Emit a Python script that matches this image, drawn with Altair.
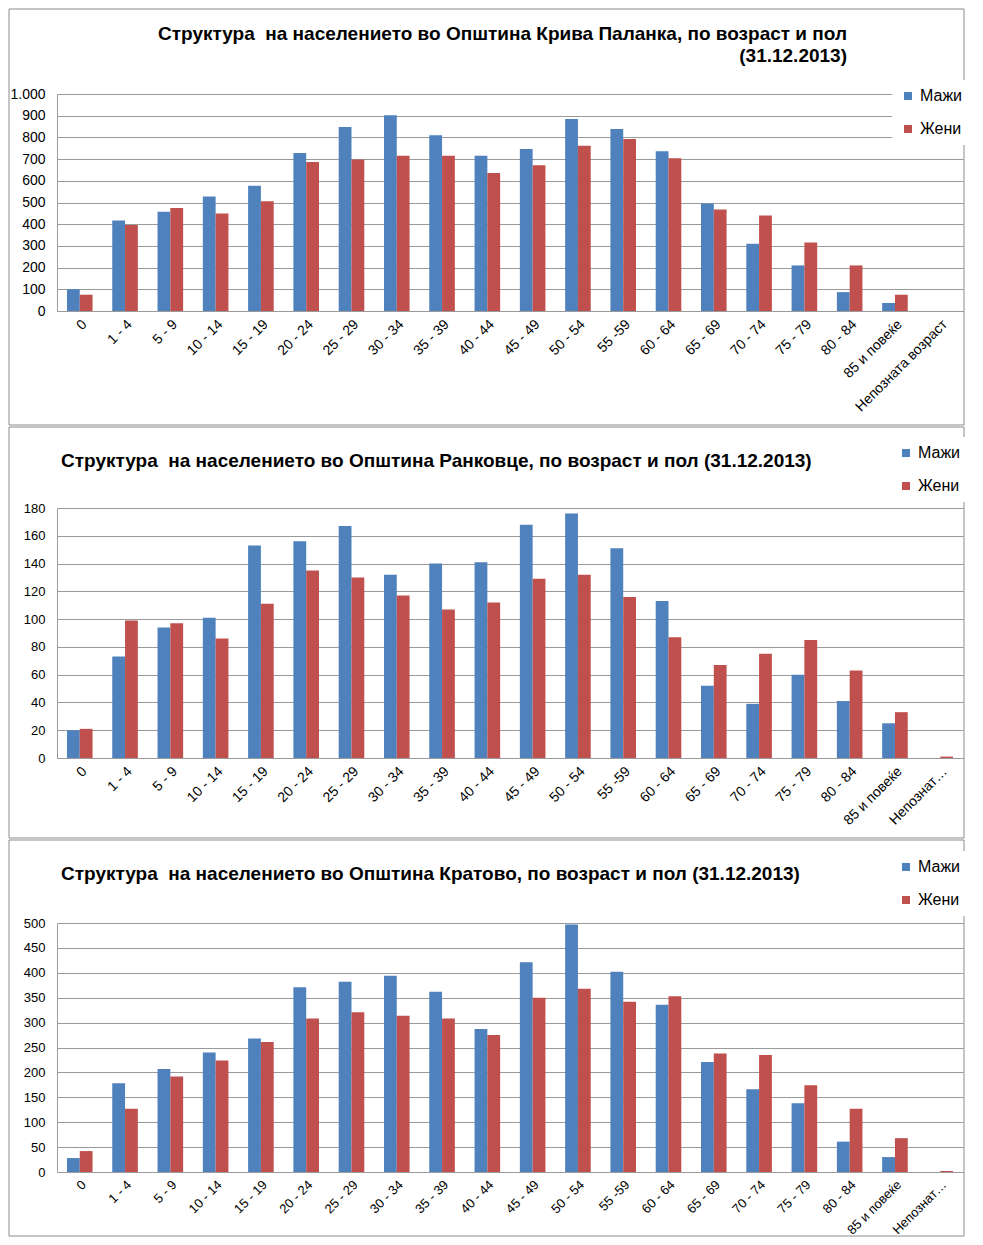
import altair as alt
import pandas as pd

ages = ['0', '1 - 4', '5 - 9', '10 - 14', '15 - 19', '20 - 24', '25 - 29', '30 - 34',
        '35 - 39', '40 - 44', '45 - 49', '50 - 54', '55 -59', '60 - 64', '65 - 69',
        '70 - 74', '75 - 79', '80 - 84', '85 и повеќе', 'Непозната возраст']
sexes = ['Мажи', 'Жени']
colors = ['#4F81BD', '#C0504D']

# Крива Паланка
kp_m = [100, 417, 457, 528, 577, 728, 848, 902, 810, 715, 747, 885, 839, 736, 495, 310, 210, 87, 37, 0]
kp_f = [75, 396, 475, 449, 506, 687, 698, 715, 715, 636, 672, 761, 793, 704, 468, 440, 316, 210, 75, 0]
# Ранковце
ra_m = [20, 73, 94, 101, 153, 156, 167, 132, 140, 141, 168, 176, 151, 113, 52, 39, 60, 41, 25, 0]
ra_f = [21, 99, 97, 86, 111, 135, 130, 117, 107, 112, 129, 132, 116, 87, 67, 75, 85, 63, 33, 1]
# Кратово
kr_m = [28, 178, 207, 240, 268, 371, 382, 394, 362, 287, 421, 497, 402, 336, 221, 166, 138, 61, 30, 0]
kr_f = [42, 127, 192, 224, 261, 308, 321, 314, 308, 275, 350, 368, 342, 353, 238, 235, 174, 127, 68, 2]

title1 = ['Структура\u00a0 на населението во Општина Крива Паланка, по возраст и пол', '(31.12.2013)']
title2 = ['Структура\u00a0 на населението во Општина Ранковце, по возраст и пол (31.12.2013)']
title3 = ['Структура\u00a0 на населението во Општина Кратово, по возраст и пол (31.12.2013)']

FONT = 'Liberation Sans'
W = 906
GRID = '#9a9a9a'
BORDER = '#8c8c8c'
TITLE_SIZE = 19


def panel(m, f, ymax, ystep, height, title_lines, title_x, title_y, title_align,
          legend_x, legend_y, box_top, box_bottom, ylab_size, xlab_size, truncate, ylab_expr=None):
    df = pd.DataFrame({'age': ages * 2, 'sex': [sexes[0]] * 20 + [sexes[1]] * 20, 'value': m + f})
    xaxis_kw = dict(title=None, labelAngle=-45, labelFontSize=xlab_size, labelFont=FONT, labelColor='black',
                    ticks=False, domainColor=GRID, labelPadding=6, grid=False, labelOverlap=False,
                    labelLimit=300)
    if truncate:
        xaxis_kw['labelExpr'] = "datum.label == 'Непозната возраст' ? 'Непознат…' : datum.label"
    yaxis_kw = dict(title=None, values=list(range(0, ymax + 1, ystep)), labelFontSize=ylab_size,
                    labelFont=FONT, labelColor='black', ticks=False, tickSize=0, labelPadding=12,
                    domainColor=GRID, gridColor=GRID, grid=True)
    if ylab_expr:
        yaxis_kw['labelExpr'] = ylab_expr
    bars = alt.Chart(df).mark_bar().encode(
        x=alt.X('age:N', sort=ages, scale=alt.Scale(paddingInner=0.435, paddingOuter=0.22),
                axis=alt.Axis(**xaxis_kw)),
        xOffset=alt.XOffset('sex:N', sort=sexes),
        y=alt.Y('value:Q', scale=alt.Scale(domain=[0, ymax], nice=False), axis=alt.Axis(**yaxis_kw)),
        color=alt.Color('sex:N', sort=sexes, scale=alt.Scale(domain=sexes, range=colors),
                        legend=alt.Legend(title=None, orient='none', legendX=legend_x, legendY=legend_y,
                                          symbolType='square', symbolSize=64, symbolStrokeWidth=0,
                                          labelFontSize=16, labelFont=FONT, labelColor='black',
                                          rowPadding=17, fillColor='white', padding=8, labelOffset=4)),
    )
    box = alt.Chart(pd.DataFrame({'k': [0]})).mark_rect(filled=False, stroke=BORDER, strokeWidth=1).encode(
        x=alt.value(-48), x2=alt.value(W + 1), y=alt.value(box_top), y2=alt.value(height + box_bottom)
    )
    layers = [box, bars]
    for i, line in enumerate(title_lines):
        layers.append(
            alt.Chart(pd.DataFrame({'t': [line]})).mark_text(
                font=FONT, fontSize=TITLE_SIZE, fontWeight='bold', color='black',
                align=title_align, baseline='middle'
            ).encode(text='t:N', x=alt.value(title_x), y=alt.value(title_y + 22 * i))
        )
    return alt.layer(*layers).properties(width=W, height=height)


p1 = panel(kp_m, kp_f, 1000, 100, 217, title1, 790, -60.5, 'right', 835, -14, -85, 114, 14, 14, False,
           "replace(format(datum.value, ','), ',', '.')")
p2 = panel(ra_m, ra_f, 180, 20, 250, title2, 4, -47.5, 'left', 833, -71, -81, 80, 13, 14, True)
p3 = panel(kr_m, kr_f, 500, 50, 249, title3, 4, -49.5, 'left', 833, -72, -83, 64, 13, 13, True)

chart = alt.vconcat(p1, p2, p3, spacing=0).resolve_scale(
    x='independent', y='independent', color='independent', xOffset='independent'
).resolve_legend(color='independent').properties(
    padding=0, background='white'
).configure_view(stroke=None)

chart.save("out.html", embed_options={"renderer": "svg", "actions": False})
